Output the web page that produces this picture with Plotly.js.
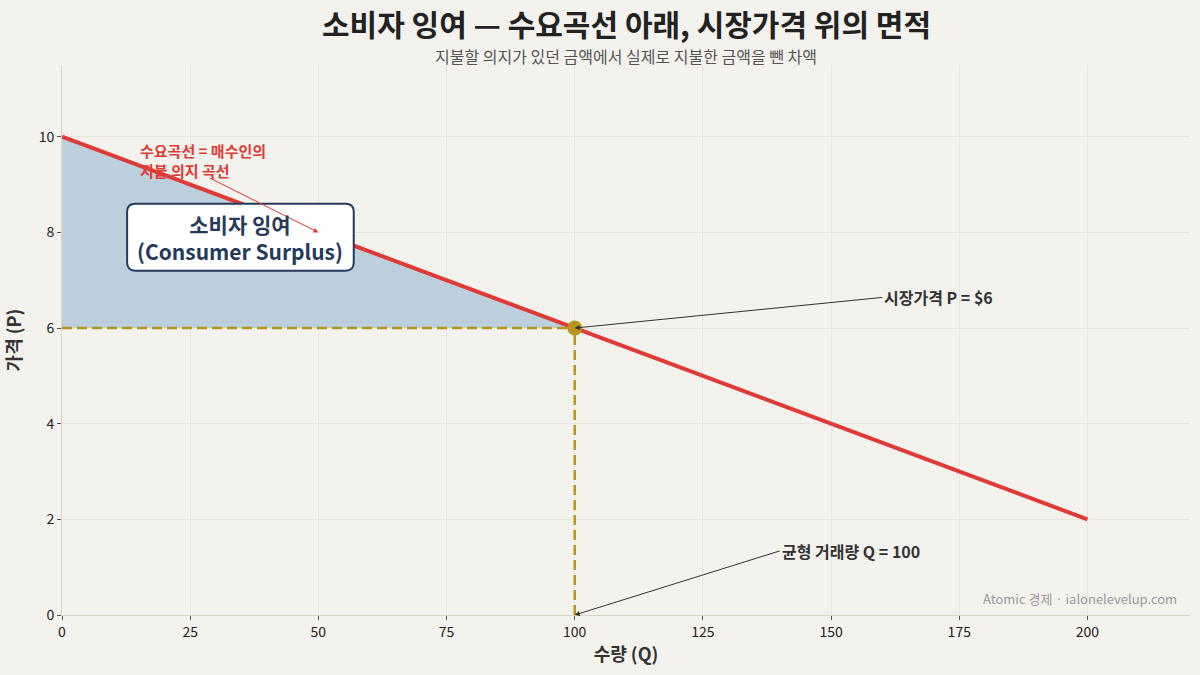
<!DOCTYPE html>
<html>
<head>
<meta charset="utf-8">
<script src="https://cdn.plot.ly/plotly-3.0.1.min.js"></script>
<style>
  html, body { margin: 0; padding: 0; background: #f4f2ed; }
  #chart { width: 1200px; height: 675px; }
</style>
</head>
<body>
<div id="chart"></div>
<script>
// demand curve end points (quantity, price)
var demandQ = [0, 200];
var demandP = [10, 2];
// consumer surplus triangle corners
var surplusQ = [0, 100, 0];
var surplusP = [10, 6, 6];
// market equilibrium
var eqQ = [100];
var eqP = [6];

var FONT = '"Noto Sans CJK KR", "Noto Sans", sans-serif';
var GOLD = '#b8961e';
var RED = '#e03a36';
var NAVY = '#253a5a';

var surplus = {
  x: surplusQ, y: surplusP,
  type: 'scatter', mode: 'lines',
  fill: 'toself', fillcolor: '#bccfdd',
  line: {width: 0},
  hoverinfo: 'skip', showlegend: false
};
var hLine = {
  x: [0, eqQ[0]], y: [eqP[0], eqP[0]],
  type: 'scatter', mode: 'lines',
  line: {color: GOLD, width: 2.5, dash: '10px,5px'},
  showlegend: false
};
var vLine = {
  x: [eqQ[0], eqQ[0]], y: [0, eqP[0]],
  type: 'scatter', mode: 'lines',
  line: {color: GOLD, width: 2.5, dash: '10px,5px'},
  showlegend: false
};
var demand = {
  x: demandQ, y: demandP,
  type: 'scatter', mode: 'lines',
  line: {color: RED, width: 4},
  showlegend: false
};
var eqPoint = {
  x: eqQ, y: eqP,
  type: 'scatter', mode: 'markers',
  marker: {color: GOLD, size: 15},
  showlegend: false
};

var data = [surplus, hLine, vLine, demand, eqPoint];

// rounded label box (data coords)
var bx0 = 12.7, bx1 = 56.9, by0 = 7.2, by1 = 8.6, rx = 1.6, ry = 0.17;
var boxPath = 'M' + (bx0 + rx) + ',' + by1 +
  ' L' + (bx1 - rx) + ',' + by1 + ' Q' + bx1 + ',' + by1 + ' ' + bx1 + ',' + (by1 - ry) +
  ' L' + bx1 + ',' + (by0 + ry) + ' Q' + bx1 + ',' + by0 + ' ' + (bx1 - rx) + ',' + by0 +
  ' L' + (bx0 + rx) + ',' + by0 + ' Q' + bx0 + ',' + by0 + ' ' + bx0 + ',' + (by0 + ry) +
  ' L' + bx0 + ',' + (by1 - ry) + ' Q' + bx0 + ',' + by1 + ' ' + (bx0 + rx) + ',' + by1 + ' Z';

var layout = {
  width: 1200, height: 675,
  paper_bgcolor: '#f4f2ed',
  plot_bgcolor: '#f4f2ed',
  font: {family: FONT, color: '#222'},
  margin: {l: 62, r: 10, t: 65, b: 60},
  showlegend: false,
  xaxis: {
    range: [0, 220],
    tickvals: [0, 25, 50, 75, 100, 125, 150, 175, 200],
    ticks: 'outside', ticklen: 4, tickcolor: '#555',
    tickfont: {size: 14, color: '#222'},
    showgrid: true, gridcolor: '#e8e6df', gridwidth: 1,
    showline: true, linecolor: '#d9d6c8', linewidth: 1,
    zeroline: false,
    title: {text: '<b>수량 (Q)</b>', font: {size: 18, color: '#333'}, standoff: 8}
  },
  yaxis: {
    range: [0, 11.5],
    tickvals: [0, 2, 4, 6, 8, 10],
    ticks: 'outside', ticklen: 4, tickcolor: '#555',
    tickfont: {size: 14, color: '#222'},
    showgrid: true, gridcolor: '#e8e6df', gridwidth: 1,
    showline: true, linecolor: '#d9d6c8', linewidth: 1,
    zeroline: false,
    title: {text: '<b>가격 (P)</b>', font: {size: 18, color: '#333'}, standoff: 12}
  },
  shapes: [
    {type: 'path', xref: 'x', yref: 'y', path: boxPath, layer: 'above',
     fillcolor: '#ffffff', line: {color: NAVY, width: 2}}
  ],
  annotations: [
    {
      xref: 'paper', yref: 'paper', x: 0.5, y: 1, yanchor: 'middle',
      yshift: 42,
      text: '<b>소비자 잉여 — 수요곡선 아래, 시장가격 위의 면적</b>',
      showarrow: false, font: {size: 30, color: '#222'}
    },
    {
      xref: 'paper', yref: 'paper', x: 0.5, y: 1, yanchor: 'middle',
      yshift: 9,
      text: '지불할 의지가 있던 금액에서 실제로 지불한 금액을 뺀 차액',
      showarrow: false, font: {size: 16, color: '#555'}
    },
    {
      x: 50, y: 8, ax: -110, ay: -55,
      xref: 'x', yref: 'y',
      showarrow: true, arrowhead: 2, arrowsize: 1, arrowwidth: 1, arrowcolor: RED,
      text: ''
    },
    {
      x: 14.8, y: 9.98, xanchor: 'left', yanchor: 'top', align: 'left',
      text: '<b>수요곡선 = 매수인의<br>지불 의지 곡선</b>',
      showarrow: false, font: {size: 15, color: RED}
    },
    {
      x: 34.8, y: 7.9,
      text: '<b>소비자 잉여<br>(Consumer Surplus)</b>',
      showarrow: false, font: {size: 21, color: NAVY}
    },
    {
      x: 100, y: 6, ax: 160, ay: 6.64, axref: 'x', ayref: 'y',
      xanchor: 'left', yanchor: 'middle',
      text: '<b>시장가격 P = $6</b>',
      showarrow: true, arrowhead: 2, arrowsize: 1, arrowwidth: 1, arrowcolor: '#333',
      font: {size: 16, color: '#333'}
    },
    {
      x: 100, y: 0, ax: 140, ay: 1.34, axref: 'x', ayref: 'y',
      xanchor: 'left', yanchor: 'middle',
      text: '<b>균형 거래량 Q = 100</b>',
      showarrow: true, arrowhead: 2, arrowsize: 1, arrowwidth: 1, arrowcolor: '#333',
      font: {size: 16, color: '#333'}
    },
    {
      xref: 'paper', yref: 'paper', x: 0.99, y: 0.01, xanchor: 'right', yanchor: 'bottom',
      text: 'Atomic 경제 · ialonelevelup.com',
      showarrow: false, font: {size: 13, color: '#9a9a9a'}
    }
  ]
};

Plotly.newPlot('chart', data, layout, {displayModeBar: false});
</script>
</body>
</html>
